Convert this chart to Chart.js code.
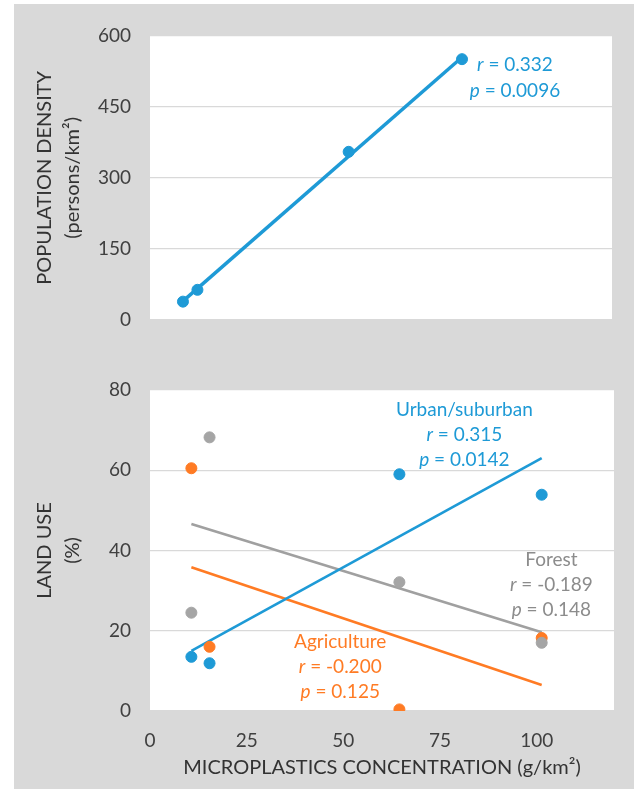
<!DOCTYPE html>
<html lang="en">
<head>
  <meta charset="UTF-8">
  <title>Microplastics – population density and land use</title>
  <style>
    html, body {
      margin: 0;
      padding: 0;
      width: 634px;
      height: 789px;
      background: #fff;
      overflow: hidden;
    }
    .frame {
      position: absolute;
      left: 14px;
      top: 4px;
      right: 0;
      bottom: 0;
      background: #d9d9d9;
    }
    .panel {
      position: absolute;
      left: 0;
      width: 634px;
    }
    #topPanel { top: 0; height: 350px; }
    #bottomPanel { top: 350px; height: 439px; }
  </style>
</head>
<body>
  <div class="frame"></div>
  <div class="panel" id="topPanel"><canvas id="densityChart"></canvas></div>
  <div class="panel" id="bottomPanel"><canvas id="landUseChart"></canvas></div>

  <script src="https://cdn.jsdelivr.net/npm/chart.js"></script>
  <script>
    // sites: microplastics concentration (g/km2)
    const siteConc = [10.7, 15.4, 64.5, 101.3];
    // population density (persons/km2) per site
    const popDensity = [38, 63, 355, 551];
    // land use shares (%) per site
    const urbanPct = [13.5, 11.9, 59.0, 53.9];
    const agriPct = [60.5, 16.0, 0.4, 18.2];
    const forestPct = [24.5, 68.2, 32.1, 17.0];

    // linear trend end points (at first and last site)
    const trendX = [10.7, 101.3];
    const popTrend = [39, 555];
    const urbanTrend = [15.0, 63.0];
    const agriTrend = [35.8, 6.5];
    const forestTrend = [46.6, 19.6];

    // axis ticks
    const densityTicks = [0, 150, 300, 450, 600];
    const landUseTicks = [0, 20, 40, 60, 80];
    const concTicks = [0, 25, 50, 75, 100];

    // correlation notes
    const popNote = ['r = 0.332', 'p = 0.0096'];
    const urbanNote = ['Urban/suburban', 'r = 0.315', 'p = 0.0142'];
    const agriNote = ['Agriculture', 'r = -0.200', 'p = 0.125'];
    const forestNote = ['Forest', 'r = -0.189', 'p = 0.148'];

    const FONT = 'Lato, "Open Sans", sans-serif';
    const BLUE = '#1e9ad6';
    const ORANGE = '#ff7b24';
    const GREY = '#a5a5a5';
    const TICK_COLOR = '#404040';
    const PAD_LEFT = 31;

    const pts = (xs, ys) => xs.map((x, i) => ({ x: x, y: ys[i] }));

    // white plot area on the grey frame
    const whitePlot = {
      id: 'whitePlot',
      beforeDraw(chart) {
        const { ctx, chartArea: a } = chart;
        ctx.save();
        ctx.fillStyle = '#fff';
        ctx.fillRect(a.left, a.top, a.width, a.height);
        ctx.restore();
      }
    };

    // "r = ..." / "p = ..." lines with italic symbol, centred on a data point
    function drawNoteLine(ctx, text, cx, cy, color, size) {
      const m = text.match(/^([rp])( = .*)$/);
      const normal = `${size}px ${FONT}`;
      const italic = `italic ${size}px ${FONT}`;
      ctx.fillStyle = color;
      ctx.textBaseline = 'middle';
      ctx.textAlign = 'left';
      if (!m) {
        ctx.font = normal;
        const w = ctx.measureText(text).width;
        ctx.fillText(text, cx - w / 2, cy);
        return;
      }
      ctx.font = italic;
      const w1 = ctx.measureText(m[1]).width;
      ctx.font = normal;
      const w2 = ctx.measureText(m[2]).width;
      const x0 = cx - (w1 + w2) / 2;
      ctx.font = italic;
      ctx.fillText(m[1], x0, cy);
      ctx.font = normal;
      ctx.fillText(m[2], x0 + w1, cy);
    }

    const statNotes = {
      id: 'statNotes',
      afterDatasetsDraw(chart, args, opts) {
        const { ctx, scales } = chart;
        ctx.save();
        opts.items.forEach(n => {
          const cx = scales.x.getPixelForValue(n.x);
          let cy = scales.y.getPixelForValue(n.y);
          n.lines.forEach(line => {
            drawNoteLine(ctx, line, cx, cy, n.color, opts.size);
            cy += opts.spacing;
          });
        });
        ctx.restore();
      }
    };

    function yAxis(max, step, tickList, title, width) {
      return {
        min: 0,
        max: max,
        afterBuildTicks: s => { s.ticks = tickList.map(v => ({ value: v })); },
        afterFit: s => { s.width = width; },
        ticks: { stepSize: step, padding: 19, color: TICK_COLOR, font: { family: FONT, size: 19 } },
        grid: { color: '#d9d9d9', lineWidth: 1.2, drawTicks: false },
        border: { display: false },
        title: {
          display: true,
          text: title,
          color: '#333',
          padding: 0,
          font: { family: FONT, size: 20, lineHeight: 1.4 }
        }
      };
    }

    const dot = (data, color) => ({
      type: 'scatter',
      data: data,
      backgroundColor: color,
      borderColor: color,
      pointRadius: 5.5,
      pointHoverRadius: 5.5,
      showLine: false
    });

    const trend = (ys, color, width) => ({
      type: 'line',
      data: pts(trendX, ys),
      borderColor: color,
      borderWidth: width,
      pointRadius: 0,
      fill: false,
      tension: 0
    });

    Chart.defaults.animation = false;

    new Chart(document.getElementById('densityChart'), {
      type: 'scatter',
      data: {
        datasets: [
          dot(pts(siteConc, popDensity), BLUE),
          trend(popTrend, BLUE, 3.5)
        ]
      },
      options: {
        responsive: true,
        maintainAspectRatio: false,
        layout: { padding: { left: PAD_LEFT, top: 36, right: 22, bottom: 29 } },
        plugins: {
          legend: { display: false },
          tooltip: { enabled: false },
          statNotes: {
            size: 19,
            spacing: 26,
            items: [{ x: 118.5, y: 539, color: BLUE, lines: popNote }]
          }
        },
        scales: {
          x: { type: 'linear', display: false, min: 0, max: 150 },
          y: yAxis(600, 150, densityTicks, ['POPULATION DENSITY', '(persons/km²)'], 150 - PAD_LEFT)
        }
      },
      plugins: [whitePlot, statNotes]
    });

    new Chart(document.getElementById('landUseChart'), {
      type: 'scatter',
      data: {
        datasets: [
          dot(pts(siteConc, forestPct), GREY),
          dot(pts(siteConc, agriPct), ORANGE),
          dot(pts(siteConc, urbanPct), BLUE),
          trend(urbanTrend, BLUE, 2.6),
          trend(forestTrend, '#a0a0a0', 2.6),
          trend(agriTrend, ORANGE, 2.6)
        ]
      },
      options: {
        responsive: true,
        maintainAspectRatio: false,
        layout: { padding: { left: PAD_LEFT, top: 40, right: 20, bottom: 9 } },
        plugins: {
          legend: { display: false },
          tooltip: { enabled: false },
          statNotes: {
            size: 19,
            spacing: 25,
            items: [
              { x: 81.3, y: 75, color: BLUE, lines: urbanNote },
              { x: 103.8, y: 37.7, color: '#8c8c8c', lines: forestNote },
              { x: 49.2, y: 17.3, color: ORANGE, lines: agriNote }
            ]
          }
        },
        scales: {
          x: {
            type: 'linear',
            min: 0,
            max: 120,
            afterBuildTicks: s => { s.ticks = concTicks.map(v => ({ value: v })); },
            afterFit: s => { s.height = 69; },
            ticks: { padding: 18, color: TICK_COLOR, font: { family: FONT, size: 19 } },
            grid: { display: false, drawTicks: false },
            border: { display: false },
            title: {
              display: true,
              text: 'MICROPLASTICS CONCENTRATION (g/km²)',
              color: '#333',
              padding: 0,
              font: { family: FONT, size: 20 }
            }
          },
          y: yAxis(80, 20, landUseTicks, ['LAND USE', '(%)'], 150 - PAD_LEFT)
        }
      },
      plugins: [whitePlot, statNotes]
    });
  </script>
</body>
</html>
